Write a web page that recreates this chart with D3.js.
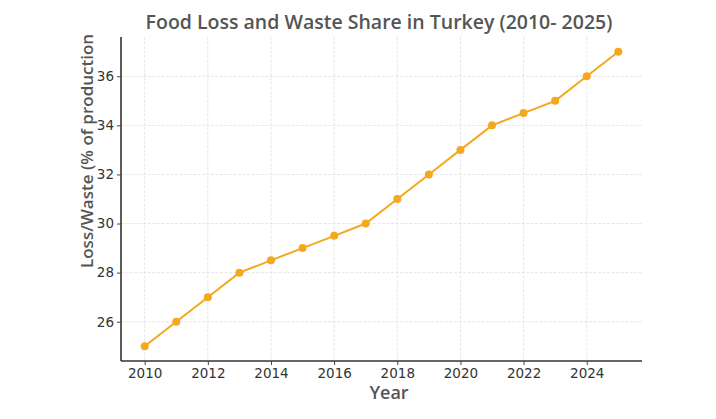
<!DOCTYPE html>
<html lang="en">
<head>
    <meta charset="UTF-8">
    <title>Food Loss and Waste Share in Turkey</title>
    <style>
        html,body {
            margin : 0px;
            padding: 0px;
            background: #fff;
        }
        svg { display: block; }
    </style>
    <script src="https://cdn.jsdelivr.net/npm/d3@7"></script>
</head>
<body>
<svg></svg>
<script>
    // data
    const years  = [2010, 2011, 2012, 2013, 2014, 2015, 2016, 2017, 2018, 2019, 2020, 2021, 2022, 2023, 2024, 2025];
    const shares = [25, 26, 27, 28, 28.5, 29, 29.5, 30, 31, 32, 33, 34, 34.5, 35, 36, 37];
    const xTicks = [2010, 2012, 2014, 2016, 2018, 2020, 2022, 2024];
    const yTicks = [26, 28, 30, 32, 34, 36];

    const W = 716, H = 419;
    const plot = {left: 121, right: 642, top: 37, bottom: 361};
    const orange = '#f4a81d';

    const svg = d3.select('svg').attr('width', W).attr('height', H);

    const x = d3.scaleLinear().domain([2009.25, 2025.75]).range([plot.left, plot.right]);
    const y = d3.scaleLinear().domain([24.4, 37.6]).range([plot.bottom, plot.top]);

    // grid
    const grid = svg.append('g').attr('stroke', '#e0e0e0').attr('stroke-width', 0.8)
        .attr('stroke-dasharray', '3,1.5');
    grid.selectAll('.vg').data(xTicks).enter().append('line')
        .attr('x1', d => x(d)).attr('x2', d => x(d))
        .attr('y1', plot.top).attr('y2', plot.bottom);
    grid.selectAll('.hg').data(yTicks).enter().append('line')
        .attr('x1', plot.left).attr('x2', plot.right)
        .attr('y1', d => y(d)).attr('y2', d => y(d));

    // axes
    const xAxis = svg.append('g')
        .attr('transform', `translate(0,${plot.bottom})`)
        .call(d3.axisBottom(x).tickValues(xTicks).tickFormat(d3.format('d')).tickSize(4).tickSizeOuter(0));
    const yAxis = svg.append('g')
        .attr('transform', `translate(${plot.left},0)`)
        .call(d3.axisLeft(y).tickValues(yTicks).tickSize(4).tickSizeOuter(0));

    [xAxis, yAxis].forEach(a => {
        a.select('.domain').attr('stroke', '#333').attr('stroke-width', 1.6);
        a.selectAll('.tick line').attr('stroke', '#444');
        a.selectAll('.tick text').attr('fill', '#333')
            .style('font-family', 'DejaVu Sans').style('font-size', '13.5px');
    });
    xAxis.select('.domain').attr('d', `M${plot.left},0H${plot.right}`);
    yAxis.select('.domain').attr('d', `M0,${plot.top}V${plot.bottom}`);

    // line and markers
    const pts = years.map((yr, i) => ({year: yr, v: shares[i]}));
    svg.append('path').datum(pts)
        .attr('fill', 'none')
        .attr('stroke', orange)
        .attr('stroke-width', 2)
        .attr('d', d3.line().x(d => x(d.year)).y(d => y(d.v)));
    svg.append('g').selectAll('circle').data(pts).enter().append('circle')
        .attr('cx', d => x(d.year)).attr('cy', d => y(d.v))
        .attr('r', 4).attr('fill', orange);

    // titles
    const label = (sel) => sel.style('font-family', 'Open Sans').style('font-weight', 600).attr('fill', '#555');
    svg.append('text').call(label)
        .attr('x', 379).attr('y', 29).attr('text-anchor', 'middle')
        .style('font-size', '19.5px')
        .text('Food Loss and Waste Share in Turkey (2010- 2025)');
    svg.append('text').call(label)
        .attr('x', 389).attr('y', 399).attr('text-anchor', 'middle')
        .style('font-size', '18px')
        .text('Year');
    svg.append('text').call(label)
        .attr('transform', 'translate(93,268) rotate(-90)')
        .attr('text-anchor', 'start')
        .style('font-size', '17px')
        .text('Loss/Waste (% of production');
</script>
</body>
</html>
